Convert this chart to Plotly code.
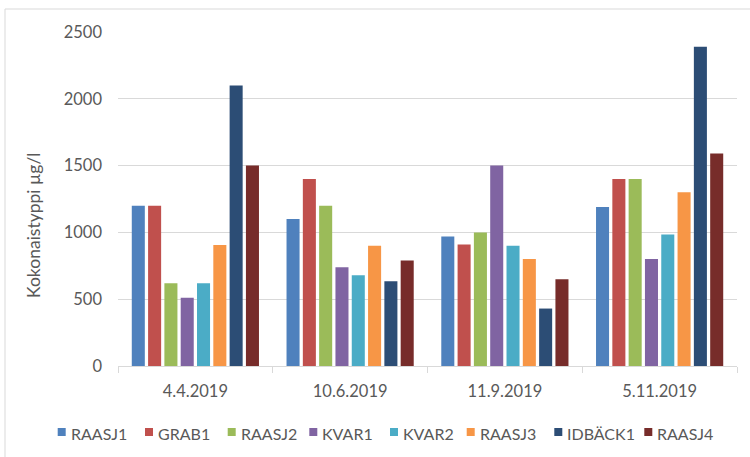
import plotly.graph_objects as go

dates = ["4.4.2019", "10.6.2019", "11.9.2019", "5.11.2019"]
stations = ["RAASJ1", "GRAB1", "RAASJ2", "KVAR1", "KVAR2", "RAASJ3", "IDBÄCK1", "RAASJ4"]

raasj1 = [1200, 1100, 970, 1190]
grab1 = [1200, 1400, 910, 1400]
raasj2 = [620, 1200, 1000, 1400]
kvar1 = [510, 740, 1500, 800]
kvar2 = [620, 680, 900, 985]
raasj3 = [905, 900, 800, 1300]
idback1 = [2100, 635, 430, 2390]
raasj4 = [1500, 790, 650, 1590]

series = [raasj1, grab1, raasj2, kvar1, kvar2, raasj3, idback1, raasj4]
colors = ["#4F81BD", "#C0504D", "#9BBB59", "#8064A2", "#4BACC6", "#F79646", "#2C4D75", "#772C2A"]

font_family = "Lato, 'Open Sans', sans-serif"
text_color = "#595959"
grid_color = "#D9D9D9"

W, H = 750, 457
M_L, M_R, M_T, M_B = 118, 13, 32, 91
plot_w = W - M_L - M_R
plot_h = H - M_T - M_B


def px(x):
    """pixel x -> paper x"""
    return (x - M_L) / plot_w


def py(y):
    """pixel y (from top) -> paper y"""
    return (H - M_B - y) / plot_h


fig = go.Figure()
for name, vals, col in zip(stations, series, colors):
    fig.add_trace(go.Bar(x=dates, y=vals, name=name, showlegend=False,
                         marker=dict(color=col, line=dict(width=0))))

fig.update_layout(
    width=W, height=H,
    margin=dict(l=M_L, r=M_R, t=M_T, b=M_B),
    paper_bgcolor="white", plot_bgcolor="white",
    barmode="group", bargap=0.157, bargroupgap=0.2,
    font=dict(family=font_family, size=16, color=text_color),
    xaxis=dict(showgrid=False, showline=True, linecolor=grid_color, linewidth=1,
               ticks="outside", tickson="boundaries", ticklen=6, tickcolor=grid_color,
               ticklabelstandoff=10,
               tickfont=dict(size=16.5, color=text_color)),
    yaxis=dict(range=[0, 2500], dtick=500, showgrid=True, gridcolor=grid_color, gridwidth=1,
               zeroline=False, showline=False, ticks="", ticklabelstandoff=15,
               tickfont=dict(size=16.5, color=text_color)),
)

# y-axis title
fig.add_annotation(text="Kokonaistyppi µg/l", xref="paper", yref="paper",
                   x=px(33), y=py(225), xanchor="center", yanchor="middle",
                   textangle=-90, showarrow=False,
                   font=dict(size=17.5, color=text_color, family=font_family))

# legend row below the plot: colour swatch followed by the station name
legend_swatch_left = [57.7, 145, 227.7, 309.3, 390, 466.7, 554.3, 644.3]
legend_y = 432
for name, col, lx in zip(stations, colors, legend_swatch_left):
    fig.add_shape(type="rect", xref="paper", yref="paper",
                  x0=px(lx), x1=px(lx + 8), y0=py(legend_y + 4), y1=py(legend_y - 4),
                  fillcolor=col, line=dict(width=0))
    fig.add_annotation(text=name, xref="paper", yref="paper",
                       x=px(lx + 11), y=py(legend_y + 1), xanchor="left", yanchor="middle",
                       showarrow=False,
                       font=dict(size=16, color=text_color, family=font_family))

# chart frame (top and left edges)
fig.add_shape(type="line", xref="paper", yref="paper", x0=px(5), x1=px(760), y0=py(9), y1=py(9),
              line=dict(color=grid_color, width=1))
fig.add_shape(type="line", xref="paper", yref="paper", x0=px(5), x1=px(5), y0=py(9), y1=py(470),
              line=dict(color=grid_color, width=1))

fig.write_html("out.html")
